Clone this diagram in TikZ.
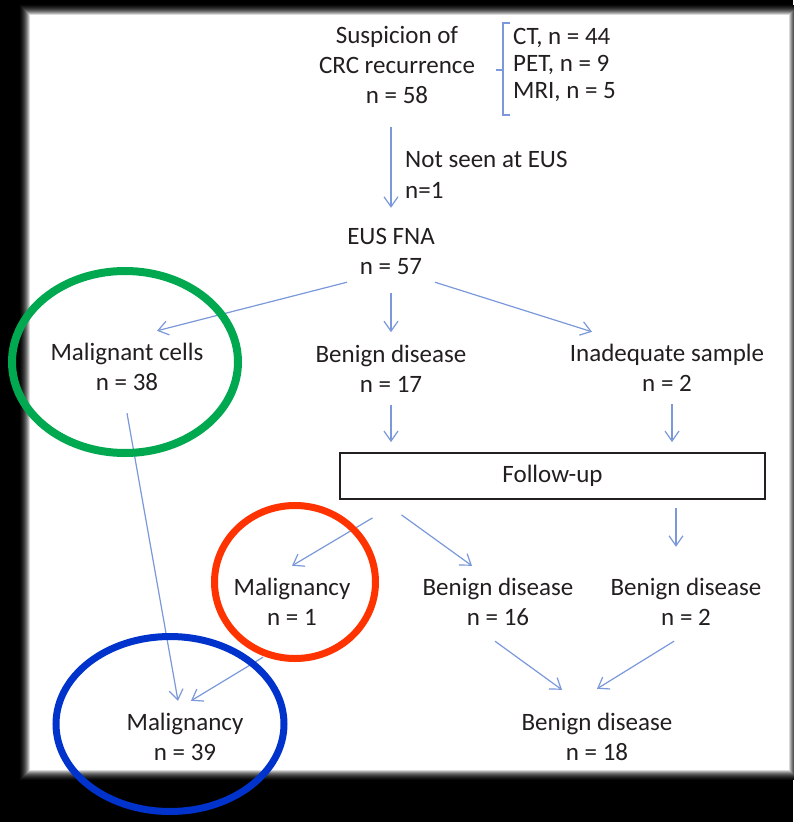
\documentclass[tikz,border=0pt]{standalone}
\usepackage{fontspec}
\setmainfont{Carlito}
\usetikzlibrary{arrows.meta, positioning}
\usepackage{xcolor}
\definecolor{ink}{RGB}{35,31,32}
\definecolor{lineblue}{RGB}{122,152,218}
\definecolor{ringgreen}{RGB}{0,168,80}
\definecolor{ringred}{RGB}{255,51,0}
\definecolor{ringblue}{RGB}{0,51,204}
\tikzset{
  txt/.style={
    align=center, font=\fontsize{25}{30}\selectfont, text=ink,
    inner sep=0pt, minimum height=72pt
  },
  txtL/.style={align=left, font=\fontsize{25}{30}\selectfont, text=ink, inner sep=0pt, anchor=west},
  boxFU/.style={draw=ink, line width=1.8pt, minimum width=425pt, minimum height=46pt,
    font=\fontsize{25}{30}\selectfont, text=ink},
  link/.style={-{Straight Barb[length=10pt, width=14pt]}, line width=1.2pt, lineblue},
  ringG/.style={draw=ringgreen, line width=8pt},
  ringR/.style={draw=ringred, line width=7pt},
  ringB/.style={draw=ringblue, line width=7pt},
}
\begin{document}
\begin{tikzpicture}[x=1pt, y=-1pt]
        \useasboundingbox (0,0) rectangle (793,822);
        % black frame with soft edge
        \fill[black] (0,0) rectangle (793,822);
        \foreach \d/\g in {10/4,9/8,8/13,7/19,6/26,5/34,4/44,3/56,2/70,1/85}
          \fill[white!\g!black] (30-\d,15-\d) rectangle (789+\d,770+\d);
        \fill[white] (30,15) rectangle (789,770);

        \node[txt, minimum height=124pt] (susp) at (397,65) {Suspicion of\\CRC recurrence\\n = 58};
        \node[txtL, font=\fontsize{25}{27}\selectfont] (imaging) at (513,65)
          {CT, n = 44\\PET, n = 9\\MRI, n = 5};
        \draw[line width=1.2pt, lineblue] (510,23) -- (503,23) -- (503,115) -- (510,115);
        \draw[line width=1.2pt, lineblue] (503,70) -- (496,70);

        \node[txt] (eus) at (391,251) {EUS FNA\\n = 57};
        \node[txtL, font=\fontsize{25}{31}\selectfont] (notseen) at (405,175) {Not seen at EUS\\n=1};

        \node[txt, below=45pt of eus] (benign17) {Benign disease\\n = 17};
        \node[txt] (mcells) at (127,367) {Malignant cells\\n = 38};
        \node[txt] (inadeq) at (667,368) {Inadequate sample\\n = 2};

        \node[boxFU] (follow) at (552.5,476) {Follow-up};

        \node[txt] (malig1) at (292,602) {Malignancy\\n = 1};
        \node[txt] (benign16) at (498,602) {Benign disease\\n = 16};
        \node[txt] (benign2) at (686,602) {Benign disease\\n = 2};

        \node[txt] (malig39) at (185,737) {Malignancy\\n = 39};
        \node[txt] (benign18) at (597,737) {Benign disease\\n = 18};

        \draw[link] (susp.south -| eus.north) -- ([yshift=7pt]eus.north);

        \draw[link] ([yshift=5pt]eus.south west) -- ([xshift=30pt]mcells.north);
        \draw[link] ([yshift=-6pt]eus.south) -- (benign17.north);
        \draw[link] ([yshift=5pt]eus.south east) -- ([xshift=-75pt]inadeq.north);

        \draw[link] ([yshift=-10pt]mcells.south) -- ([xshift=-7pt]malig39.north);
        \draw[link, shorten >=10pt] (benign17.south) -- (benign17.south |- follow.north);
        \draw[link, shorten >=10pt] ([xshift=5pt]inadeq.south) -- ([xshift=5pt]inadeq.south |- follow.north);

        \draw[link] ([xshift=-180pt, yshift=-18pt]follow.south) -- (malig1.north);
        \draw[link] ([xshift=-151pt, yshift=-15pt]follow.south) -- ([xshift=-26pt]benign16.north);
        \draw[link] ([xshift=-10pt, yshift=-8pt]benign2.north |- follow.south)
          -- ([xshift=-10pt, yshift=19pt]benign2.north);

        \draw[link] ([xshift=-29pt, yshift=-19pt]malig1.south) -- ([xshift=6pt]malig39.north);
        \draw[link] ([xshift=-3pt, yshift=-3pt]benign16.south) -- ([xshift=-35pt, yshift=11pt]benign18.north);
        \draw[link] ([xshift=-12pt, yshift=-3pt]benign2.south) -- ([yshift=12pt]benign18.north);

        % highlight rings
        \draw[ringG] ([shift={(-2,-5)}]mcells.center) ellipse [x radius=113pt, y radius=91pt];
        \draw[ringR] ([shift={(3,-20)}]malig1.center) ellipse [x radius=80.5pt, y radius=76.5pt];
        \draw[ringB] ([shift={(-15,-13)}]malig39.center) ellipse [x radius=114pt, y radius=87.5pt];
      \end{tikzpicture}
\end{document}
